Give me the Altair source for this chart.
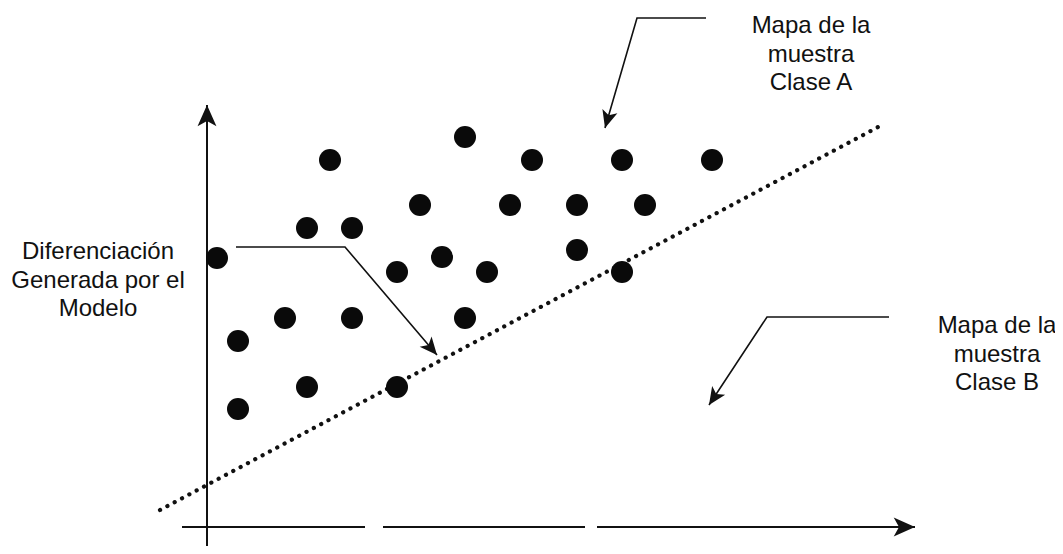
import math
import altair as alt
import pandas as pd

# ---- sample points (feature space, origin at the crossing of the axes) ----
pt_x = [258, 123, 325, 415, 505, 213, 303, 370, 438, 100, 145, 370,
        10, 235, 190, 280, 415, 78, 145, 258, 31, 100, 190, 31]
pt_y = [390, 367, 367, 367, 367, 322, 322, 322, 322, 299, 299, 277,
        269, 270, 255, 255, 255, 209, 209, 209, 186, 140, 140, 118]

# ---- decision boundary generated by the model (dotted) ----
bound_x = [-47, 673]
bound_y = [17, 401]

# ---- axes (the x axis is broken in two places in the scan) ----
axis_seg = ["x1", "x1", "x2", "x2", "x3", "x3", "y", "y"]
axis_x = [-25, 158, 176, 378, 390, 708, 0, 0]
axis_y = [0, 0, 0, 0, 0, 0, -22, 422]

# ---- annotation leader lines (last point = arrow tip) ----
lead_seg = ["A", "A", "A", "D", "D", "D", "B", "B", "B"]
lead_x = [499, 430, 398, 29, 138, 230, 682, 560, 502]
lead_y = [509, 509, 399, 280, 280, 172, 210, 210, 122]

# ---- annotation labels ----
label_text = ["Mapa de la\nmuestra\nClase A",
              "Diferenciación\nGenerada por el\nModelo",
              "Mapa de la\nmuestra\nClase B"]
label_x = [604, -109, 790]
label_y = [494, 268, 194]

X_DOM = [-199, 848]
Y_DOM = [-19, 519]
INK = "#111111"
FONT = "Liberation Sans"
HEAD = "M0,0 L0.8,1.8 L0,1.35 L-0.8,1.8 Z"

pts = pd.DataFrame({"x": pt_x, "y": pt_y})
bound = pd.DataFrame({"x": bound_x, "y": bound_y, "o": range(len(bound_x))})
axes = pd.DataFrame({"seg": axis_seg, "x": axis_x, "y": axis_y,
                     "o": range(len(axis_x))})
leads = pd.DataFrame({"seg": lead_seg, "x": lead_x, "y": lead_y,
                      "o": range(len(lead_x))})
labels = pd.DataFrame({"t": label_text, "x": label_x, "y": label_y})


def heads(df, segs):
    rows = []
    for s in segs:
        d = df[df["seg"] == s]
        x0, y0 = d["x"].iloc[-2], d["y"].iloc[-2]
        x1, y1 = d["x"].iloc[-1], d["y"].iloc[-1]
        ang = math.degrees(math.atan2(x1 - x0, y1 - y0)) % 360
        rows.append({"x": x1, "y": y1, "angle": ang})
    return pd.DataFrame(rows)


axis_heads = heads(axes, ["x3", "y"])
lead_heads = heads(leads, ["A", "D", "B"])

xs = alt.Scale(domain=X_DOM, nice=False, zero=False)
ys = alt.Scale(domain=Y_DOM, nice=False, zero=False)
X = lambda: alt.X("x:Q", scale=xs, axis=None)
Y = lambda: alt.Y("y:Q", scale=ys, axis=None)

axis_lines = alt.Chart(axes).mark_line(color=INK, strokeWidth=2).encode(
    x=X(), y=Y(), detail="seg:N", order="o:Q")
axis_arrows = alt.Chart(axis_heads).mark_point(
    shape=HEAD, filled=True, color=INK, opacity=1, size=560).encode(
    x=X(), y=Y(), angle=alt.Angle("angle:Q", scale=None))

boundary = alt.Chart(bound).mark_line(
    color=INK, strokeWidth=4.2, strokeDash=[0.1, 8.2], strokeCap="round").encode(
    x=X(), y=Y(), order="o:Q")

dots = alt.Chart(pts).mark_circle(color="#0a0a0a", opacity=1, size=484).encode(
    x=X(), y=Y())

lead_lines = alt.Chart(leads).mark_line(color=INK, strokeWidth=1.6).encode(
    x=X(), y=Y(), detail="seg:N", order="o:Q")
lead_arrows = alt.Chart(lead_heads).mark_point(
    shape=HEAD, filled=True, color=INK, opacity=1, size=380).encode(
    x=X(), y=Y(), angle=alt.Angle("angle:Q", scale=None))

texts = alt.Chart(labels).mark_text(
    font=FONT, fontSize=24, lineHeight=28.5, lineBreak="\n", align="center",
    baseline="alphabetic", color=INK).encode(x=X(), y=Y(), text="t:N")

chart = alt.layer(axis_lines, axis_arrows, boundary, dots, lead_lines,
                  lead_arrows, texts).properties(
    width=1047, height=538, padding=0,
    autosize=alt.AutoSizeParams(type="none"),
    background="white",
).configure_view(stroke=None)

chart.save("out.html", embed_options={"renderer": "svg", "actions": False})
